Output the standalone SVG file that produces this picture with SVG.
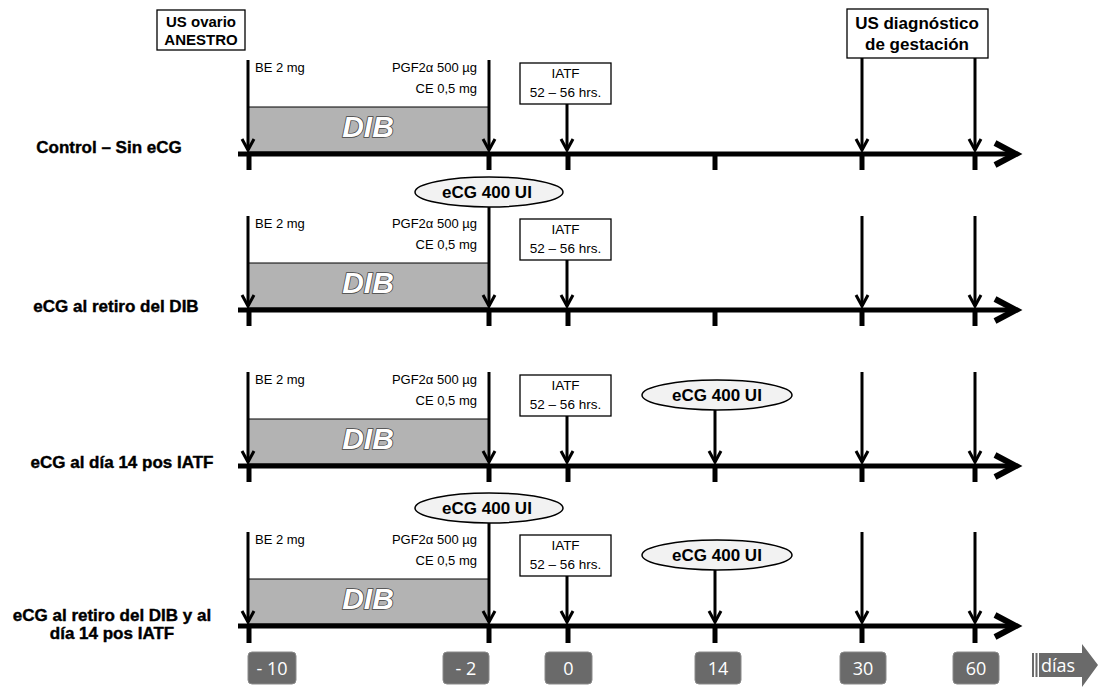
<svg xmlns="http://www.w3.org/2000/svg" width="1100" height="688" viewBox="0 0 1100 688">
<defs>
<style>
.ax{stroke:#000;stroke-width:5;fill:none}
.chev{stroke:#000;stroke-width:6;fill:none;stroke-linejoin:miter}
.tk{stroke:#000;stroke-width:5}
.vl{stroke:#000;stroke-width:3;fill:none}
.dib{fill:#b3b3b3;stroke:#000;stroke-width:1}
.dibt{font-family:"Liberation Sans",Arial,sans-serif;font-weight:bold;font-style:italic;font-size:30px;fill:#fff;stroke:#444;stroke-width:1.6;paint-order:stroke;text-anchor:middle}
.sm{font-family:"Liberation Sans",Arial,sans-serif;font-size:13px;fill:#000}
.box{fill:#fff;stroke:#000;stroke-width:1.3}
.iatf{font-family:"Liberation Sans",Arial,sans-serif;font-size:13.5px;fill:#000;text-anchor:middle}
.bt{font-family:"Liberation Sans",Arial,sans-serif;font-weight:bold;fill:#000;text-anchor:middle}
.ell{fill:#f2f2f2;stroke:#000;stroke-width:1.5}
.row{font-family:"Liberation Sans",Arial,sans-serif;font-weight:bold;font-size:17px;fill:#000;text-anchor:middle;stroke:#000;stroke-width:0.4}
.nb{fill:#6a6a6a;stroke:#8a8a8a;stroke-width:1}
.nt{font-family:"Liberation Sans Narrow","Open Sans",sans-serif;font-size:18px;fill:#fff;text-anchor:middle}
</style>
<marker id="ah" markerUnits="userSpaceOnUse" viewBox="0 0 12 14" refX="11" refY="7" markerWidth="12" markerHeight="14" orient="auto" overflow="visible">
<path d="M0,1 L11,7 L0,13" fill="none" stroke="#000" stroke-width="3"/>
</marker>
</defs>
<rect width="1100" height="688" fill="#fff"/>

<!-- DIB boxes -->
<g id="dib1"><rect class="dib" x="248" y="107" width="241" height="45"/><text class="dibt" x="368" y="137">DIB</text></g>
<g id="dib2"><rect class="dib" x="248" y="263" width="241" height="45"/><text class="dibt" x="368" y="293">DIB</text></g>
<g id="dib3"><rect class="dib" x="248" y="419" width="241" height="45"/><text class="dibt" x="368" y="449">DIB</text></g>
<g id="dib4"><rect class="dib" x="248" y="579" width="241" height="45"/><text class="dibt" x="368" y="609">DIB</text></g>

<g id="connectors">
<!-- axes -->
<line class="ax" x1="238" y1="154" x2="1012" y2="154"/>
<polyline class="chev" points="995,143 1016,154 995,165"/>
<line class="ax" x1="238" y1="310" x2="1012" y2="310"/>
<polyline class="chev" points="995,299 1016,310 995,321"/>
<line class="ax" x1="238" y1="466" x2="1012" y2="466"/>
<polyline class="chev" points="995,455 1016,466 995,477"/>
<line class="ax" x1="238" y1="626" x2="1012" y2="626"/>
<polyline class="chev" points="995,615 1016,626 995,637"/>
<!-- ticks -->
<g class="tk">
<line x1="249" y1="156" x2="249" y2="170"/><line x1="489" y1="156" x2="489" y2="170"/><line x1="568" y1="156" x2="568" y2="170"/><line x1="715" y1="156" x2="715" y2="170"/><line x1="862" y1="156" x2="862" y2="170"/><line x1="975" y1="156" x2="975" y2="170"/>
<line x1="249" y1="312" x2="249" y2="326"/><line x1="489" y1="312" x2="489" y2="326"/><line x1="568" y1="312" x2="568" y2="326"/><line x1="715" y1="312" x2="715" y2="326"/><line x1="862" y1="312" x2="862" y2="326"/><line x1="975" y1="312" x2="975" y2="326"/>
<line x1="249" y1="468" x2="249" y2="482"/><line x1="489" y1="468" x2="489" y2="482"/><line x1="568" y1="468" x2="568" y2="482"/><line x1="715" y1="468" x2="715" y2="482"/><line x1="862" y1="468" x2="862" y2="482"/><line x1="975" y1="468" x2="975" y2="482"/>
<line x1="249" y1="628" x2="249" y2="643"/><line x1="489" y1="628" x2="489" y2="643"/><line x1="568" y1="628" x2="568" y2="643"/><line x1="715" y1="628" x2="715" y2="643"/><line x1="862" y1="628" x2="862" y2="643"/><line x1="975" y1="628" x2="975" y2="643"/>
</g>
<!-- vertical arrows row 1 -->
<g class="vl" marker-end="url(#ah)">
<line x1="248" y1="60" x2="248" y2="150"/>
<line x1="489" y1="60" x2="489" y2="150"/>
<line x1="567" y1="104" x2="567" y2="150"/>
<line x1="862" y1="58" x2="862" y2="150"/>
<line x1="975" y1="58" x2="975" y2="150"/>
<!-- row 2 -->
<line x1="248" y1="216" x2="248" y2="306"/>
<line x1="489" y1="207" x2="489" y2="306"/>
<line x1="567" y1="260" x2="567" y2="306"/>
<line x1="862" y1="216" x2="862" y2="306"/>
<line x1="975" y1="216" x2="975" y2="306"/>
<!-- row 3 -->
<line x1="248" y1="372" x2="248" y2="462"/>
<line x1="489" y1="372" x2="489" y2="462"/>
<line x1="567" y1="416" x2="567" y2="462"/>
<line x1="715" y1="410" x2="715" y2="462"/>
<line x1="862" y1="372" x2="862" y2="462"/>
<line x1="975" y1="372" x2="975" y2="462"/>
<!-- row 4 -->
<line x1="248" y1="532" x2="248" y2="622"/>
<line x1="489" y1="523" x2="489" y2="622"/>
<line x1="567" y1="576" x2="567" y2="622"/>
<line x1="715" y1="570" x2="715" y2="622"/>
<line x1="862" y1="532" x2="862" y2="622"/>
<line x1="975" y1="532" x2="975" y2="622"/>
</g>
</g>

<!-- top boxes -->
<g id="us-ovario"><rect class="box" x="157" y="10" width="88" height="40"/><text class="bt" font-size="15" x="201" y="27">US ovario</text><text class="bt" font-size="15" x="201" y="45">ANESTRO</text></g>
<g id="us-diag"><rect class="box" x="847" y="9" width="141" height="49"/><text class="bt" font-size="17" x="917" y="29">US diagnóstico</text><text class="bt" font-size="17" x="917" y="50">de gestación</text></g>

<!-- drug labels -->
<g id="drugs1"><text class="sm" x="255" y="72">BE 2 mg</text><text class="sm" x="477" y="72" text-anchor="end">PGF2α 500 µg</text><text class="sm" x="477" y="93" text-anchor="end">CE 0,5 mg</text></g>
<g id="drugs2"><text class="sm" x="255" y="228">BE 2 mg</text><text class="sm" x="477" y="228" text-anchor="end">PGF2α 500 µg</text><text class="sm" x="477" y="249" text-anchor="end">CE 0,5 mg</text></g>
<g id="drugs3"><text class="sm" x="255" y="384">BE 2 mg</text><text class="sm" x="477" y="384" text-anchor="end">PGF2α 500 µg</text><text class="sm" x="477" y="405" text-anchor="end">CE 0,5 mg</text></g>
<g id="drugs4"><text class="sm" x="255" y="544">BE 2 mg</text><text class="sm" x="477" y="544" text-anchor="end">PGF2α 500 µg</text><text class="sm" x="477" y="565" text-anchor="end">CE 0,5 mg</text></g>

<!-- IATF boxes -->
<g id="iatf1"><rect class="box" x="520" y="63" width="91" height="41"/><text class="iatf" x="565.5" y="78">IATF</text><text class="iatf" x="565.5" y="97">52 – 56 hrs.</text></g>
<g id="iatf2"><rect class="box" x="520" y="219" width="91" height="41"/><text class="iatf" x="565.5" y="234">IATF</text><text class="iatf" x="565.5" y="253">52 – 56 hrs.</text></g>
<g id="iatf3"><rect class="box" x="520" y="375" width="91" height="41"/><text class="iatf" x="565.5" y="390">IATF</text><text class="iatf" x="565.5" y="409">52 – 56 hrs.</text></g>
<g id="iatf4"><rect class="box" x="520" y="535" width="91" height="41"/><text class="iatf" x="565.5" y="550">IATF</text><text class="iatf" x="565.5" y="569">52 – 56 hrs.</text></g>

<!-- eCG ellipses -->
<g id="ecg2"><ellipse class="ell" cx="489" cy="192" rx="74" ry="15"/><text class="bt" font-size="17" x="487" y="198">eCG 400 UI</text></g>
<g id="ecg3"><ellipse class="ell" cx="717" cy="395" rx="75" ry="15"/><text class="bt" font-size="17" x="717" y="401">eCG 400 UI</text></g>
<g id="ecg4a"><ellipse class="ell" cx="489" cy="508" rx="74" ry="15"/><text class="bt" font-size="17" x="487" y="514">eCG 400 UI</text></g>
<g id="ecg4b"><ellipse class="ell" cx="717" cy="555" rx="75" ry="15"/><text class="bt" font-size="17" x="717" y="561">eCG 400 UI</text></g>

<!-- row labels -->
<g id="lbl1"><text class="row" x="109" y="153">Control – Sin eCG</text></g>
<g id="lbl2"><text class="row" x="116" y="312">eCG al retiro del DIB</text></g>
<g id="lbl3"><text class="row" x="122" y="468">eCG al día 14 pos IATF</text></g>
<g id="lbl4"><text class="row" x="112" y="621">eCG al retiro del DIB y al</text><text class="row" x="112" y="639">día 14 pos IATF</text></g>

<!-- day boxes -->
<g id="d-10"><rect class="nb" x="248" y="652" width="48" height="32" rx="4"/><text class="nt" x="272" y="675">- 10</text></g>
<g id="d-2"><rect class="nb" x="443" y="652" width="46" height="32" rx="4"/><text class="nt" x="466" y="675">- 2</text></g>
<g id="d0"><rect class="nb" x="545" y="652" width="47" height="32" rx="4"/><text class="nt" x="568.5" y="675">0</text></g>
<g id="d14"><rect class="nb" x="695" y="652" width="46" height="32" rx="4"/><text class="nt" x="718" y="675">14</text></g>
<g id="d30"><rect class="nb" x="840" y="652" width="46" height="32" rx="4"/><text class="nt" x="863" y="675">30</text></g>
<g id="d60"><rect class="nb" x="953" y="652" width="46" height="32" rx="4"/><text class="nt" x="976" y="675">60</text></g>
<g id="dias">
<rect x="1032" y="653" width="2" height="24" fill="#6a6a6a"/>
<rect x="1035.5" y="653" width="2" height="24" fill="#6a6a6a"/>
<polygon points="1039,653 1082,653 1082,644 1098,665 1082,687 1082,677 1039,677" fill="#6a6a6a"/>
<text class="nt" x="1058" y="672">días</text>
</g>
</svg>
